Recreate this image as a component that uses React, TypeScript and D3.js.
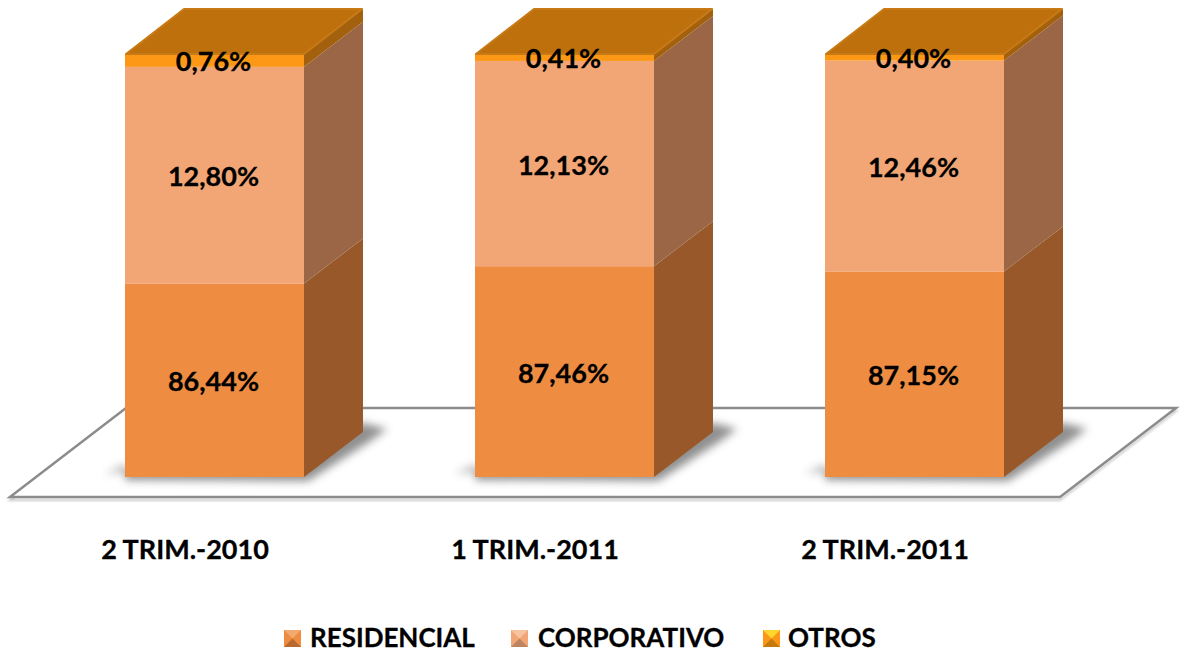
import React from "react";
import * as d3 from "d3";

const categories = ["2 TRIM.-2010", "1 TRIM.-2011", "2 TRIM.-2011"];
const residencial = [86.44, 87.46, 87.15];
const corporativo = [12.8, 12.13, 12.46];
const otros = [0.76, 0.41, 0.4];
const seriesNames = ["RESIDENCIAL", "CORPORATIVO", "OTROS"];
const seriesFront = ["#EE8C42", "#F3A675", "#FD9717"];
const seriesSide = ["#98592A", "#9A6644", "#A3610F"];
const legendTop = ["#F4A96F", "#F5C3A0", "#FFD52E"];
const legendBottom = ["#B8692E", "#BC8460", "#C67A0C"];
const legendX = [284, 511, 763];
const legendText = [310, 538, 788];
const axisFloor = 75;

const W = 1180, H = 652;
const FONT = "Lato, 'Open Sans', sans-serif";
const fmt = (v: number) => v.toFixed(2).replace(".", ",") + "%";

export default function App() {
  const y = d3.scaleLinear().domain([axisFloor, 100]).range([477, 54]);
  const x = d3.scaleBand<string>().domain(categories).range([10, 1060]);
  const barW = 179, dx = 59, dy = 45;
  const floorDx = 116, floorDy = 89, floorY = 497;
  const stack = d3.stack<any, any>().keys([0, 1, 2]).value((d, k) => d[k])(
    categories.map((_, i) => [residencial[i], corporativo[i], otros[i]])
  );
  const pts = (a: number[][]) => a.map((p) => p.join(",")).join(" ");
  const [fx0, fx1] = x.range();
  const clampY = (v: number) => y(Math.max(v, axisFloor));

  return (
    <svg width={W} height={H} style={{ position: "absolute", left: 0, top: 0, background: "#fff" }}>
      <defs>
        <filter id="blur" x="-30%" y="-30%" width="160%" height="160%"><feGaussianBlur stdDeviation="4" /></filter>
        <filter id="soft" x="-5%" y="-5%" width="110%" height="110%"><feGaussianBlur stdDeviation="0.5" /></filter>
        <filter id="lineShadow" x="-5%" y="-5%" width="110%" height="110%"><feGaussianBlur stdDeviation="1" /></filter>
      </defs>

      <polygon
        points={pts([[fx0, floorY + 3], [fx1, floorY + 3], [fx1 + floorDx, floorY - floorDy + 3], [fx0 + floorDx, floorY - floorDy + 3]])}
        fill="none" stroke="#c8c8c8" strokeWidth={2} filter="url(#lineShadow)"
      />
      <polygon
        points={pts([[fx0, floorY], [fx1, floorY], [fx1 + floorDx, floorY - floorDy], [fx0 + floorDx, floorY - floorDy]])}
        fill="#fff" stroke="#8c8c8c" strokeWidth={2.5}
      />

      {categories.map((c, i) => {
        const cx = x(c)! + x.bandwidth() / 2;
        const x0 = cx + dx / 2 - barW / 2;
        const x1 = x0 + barW;
        const base = y(axisFloor);
        return (
          <g key={c}>
            <polygon
              points={pts([[x0 - 20, base - 3], [x0, base - 12], [x0, base + 3], [x1 + 4, base + 4], [x1 + dx + 6, base - dy + 10], [x1 + dx + 24, base - dy - 3], [x1 + dx, base - dy - 9]])}
              fill="#6a6a6a" opacity={0.75} filter="url(#blur)"
            />
            <g filter="url(#soft)">
              {stack.map((s, k) => {
                const ya = clampY(s[i][0]), yb = y(s[i][1]);
                return (
                  <g key={k}>
                    <polygon points={pts([[x1, ya], [x1 + dx, ya - dy], [x1 + dx, yb - dy], [x1, yb]])} fill={seriesSide[k]} />
                    <rect x={x0} y={yb} width={barW} height={ya - yb} fill={seriesFront[k]} />
                  </g>
                );
              })}
              <polygon
                points={pts([[x0 + 1, y(100)], [x0 + dx, y(100) - dy], [x1 + dx - 1, y(100) - dy], [x1, y(100)]])}
                fill="#BE7010" stroke="#C87A14" strokeWidth={2} strokeLinejoin="round"
              />
            </g>
            {stack.map((s, k) => {
              const ya = clampY(s[i][0]), yb = y(s[i][1]);
              return (
                <text key={k} x={x0 + barW / 2 - 1} y={(ya + yb) / 2 + 11} textAnchor="middle"
                  fontFamily={FONT} fontWeight={700} fontSize={27} stroke="#000" strokeWidth={0.3} fill="#000">
                  {fmt(s[i][1] - s[i][0])}
                </text>
              );
            })}
            <text x={cx} y={559} textAnchor="middle" fontFamily={FONT} fontWeight={700} fontSize={27} stroke="#000" strokeWidth={0.3} fill="#000">{c}</text>
          </g>
        );
      })}

      {seriesNames.map((n, i) => {
        const mx = legendX[i], my = 630, ms = 17, m = 8.5;
        return (
          <g key={n}>
            <rect x={mx} y={my} width={ms} height={ms} fill={seriesFront[i]} />
            <polygon points={pts([[mx, my], [mx + ms, my], [mx + m, my + m]])} fill={legendTop[i]} />
            <polygon points={pts([[mx, my + ms], [mx + ms, my + ms], [mx + m, my + m]])} fill={legendBottom[i]} />
            <text x={legendText[i]} y={647} fontFamily={FONT} fontWeight={700} fontSize={26} stroke="#000" strokeWidth={0.3} fill="#000">{n}</text>
          </g>
        );
      })}
    </svg>
  );
}
